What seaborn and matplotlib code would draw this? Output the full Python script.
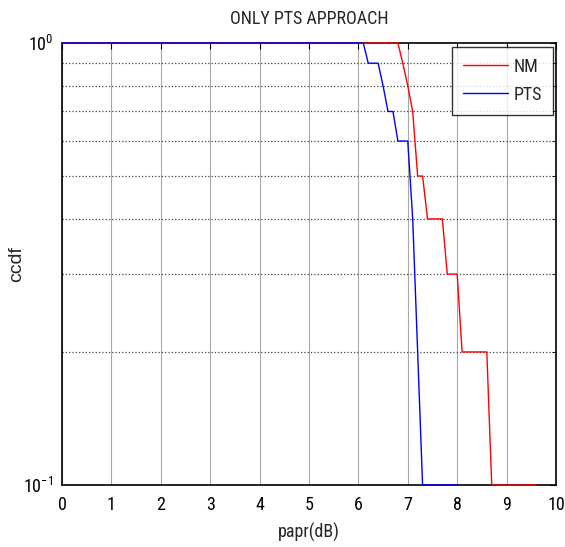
import numpy as np
import pandas as pd
import seaborn as sns
import matplotlib
matplotlib.use("Agg")
import matplotlib.pyplot as plt
from matplotlib import font_manager
from matplotlib.ticker import FixedLocator, NullFormatter

# ccdf curves
nm_papr = [0, 6.8, 6.9, 7.0, 7.1, 7.2, 7.3, 7.4, 7.7, 7.8, 8.0, 8.1, 8.6, 8.7, 9.6]
nm_ccdf = [1, 1, 0.9, 0.8, 0.7, 0.5, 0.5, 0.4, 0.4, 0.3, 0.3, 0.2, 0.2, 0.1, 0.1]
pts_papr = [0, 6.1, 6.2, 6.4, 6.5, 6.6, 6.7, 6.8, 7.0, 7.1, 7.2, 7.3, 8.0]
pts_ccdf = [1, 1, 0.9, 0.9, 0.8, 0.7, 0.7, 0.6, 0.6, 0.4, 0.2, 0.1, 0.1]
series_names = ["NM", "PTS"]
x_ticks = list(range(0, 11))

df = pd.concat([
    pd.DataFrame({"papr": nm_papr, "ccdf": nm_ccdf, "method": "NM"}),
    pd.DataFrame({"papr": pts_papr, "ccdf": pts_ccdf, "method": "PTS"}),
], ignore_index=True)

sns.set_style("white")
installed = {f.name for f in font_manager.fontManager.ttflist}
narrow = "Liberation Sans"
for cand in ["Liberation Sans Narrow", "Roboto Condensed", "Open Sans Condensed", "Liberation Sans"]:
    if cand in installed:
        narrow = cand
        break
plt.rcParams["font.family"] = [narrow, "DejaVu Sans"]
plt.rcParams["mathtext.fontset"] = "custom"
plt.rcParams["mathtext.rm"] = narrow
plt.rcParams["mathtext.it"] = narrow

fig = plt.figure(figsize=(5.65, 5.47), dpi=100)
ax = fig.add_axes([0.1097, 0.1133, 0.8743, 0.8081])

sns.lineplot(data=df, x="papr", y="ccdf", hue="method", hue_order=series_names,
             palette={"NM": "#ff0000", "PTS": "#0000ff"}, estimator=None,
             sort=False, linewidth=1.0, ax=ax)
for ln in ax.get_lines():
    ln.set_clip_on(False)
    ln.set_zorder(3)

ax.set_yscale("log")
ax.set_xlim(0, 10)
ax.set_ylim(0.1, 1)
ax.set_xticks(x_ticks)
ax.set_xticklabels([str(t) for t in x_ticks])
ax.yaxis.set_major_locator(FixedLocator([0.1, 1]))
ax.set_yticklabels([r"$10^{-1}$", r"$10^{0}$"])
ax.yaxis.set_minor_locator(FixedLocator([0.2, 0.3, 0.4, 0.5, 0.6, 0.7, 0.8, 0.9]))
ax.yaxis.set_minor_formatter(NullFormatter())

ax.tick_params(which="both", direction="in", top=True, right=True,
               labelsize=13, colors="black")
ax.tick_params(which="major", length=4, pad=6)
ax.tick_params(axis="x", which="major", pad=8)
ax.tick_params(which="minor", length=3)

ax.grid(True, axis="x", which="major", color="#a8a8a8", linestyle="-", linewidth=0.8)
ax.grid(True, axis="y", which="minor", color="#444444", linestyle=":", linewidth=0.9)
ax.grid(False, axis="y", which="major")
for s in ax.spines.values():
    s.set_color("black")
    s.set_linewidth(1.2)

ax.set_title("ONLY PTS APPROACH", fontsize=13, pad=14)
ax.set_xlabel("papr(dB)", fontsize=13, labelpad=6)
ax.set_ylabel("ccdf", fontsize=14, family=["Liberation Sans", "DejaVu Sans"], labelpad=-1)

leg = ax.legend(loc="upper right", fontsize=13, frameon=True, fancybox=False,
                borderpad=0.6, handlelength=2.5, labelspacing=0.55, handletextpad=0.3,
                borderaxespad=0, bbox_to_anchor=(0.994, 0.991))
leg.get_frame().set_edgecolor("black")
leg.get_frame().set_linewidth(1.0)
leg.set_title(None)

fig.savefig("out.png", dpi=100)
